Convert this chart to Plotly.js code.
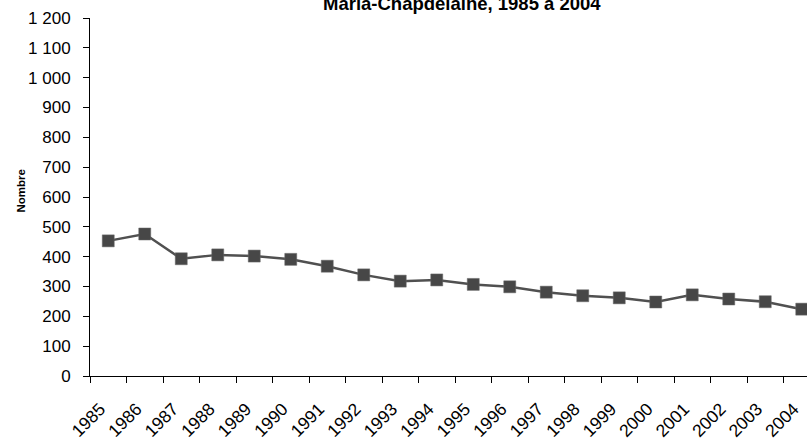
<!DOCTYPE html>
<html><head><meta charset="utf-8">
<script src="https://cdn.plot.ly/plotly-3.0.1.min.js"></script>
<style>html,body{margin:0;padding:0;overflow:hidden;background:#fff;width:807px;height:442px}</style>
</head><body><div id="chart"></div>
<script>
const years = ["1985","1986","1987","1988","1989","1990","1991","1992","1993","1994","1995","1996","1997","1998","1999","2000","2001","2002","2003","2004"];
const nombre = [453,476,393,406,402,391,368,339,318,322,307,299,281,269,262,248,272,258,249,224];
const chartTitle = "Maria-Chapdelaine, 1985 à 2004";
const yTitle = "Nombre";

const trace = {
  x: years, y: nombre, type: "scatter", mode: "lines+markers",
  line: {color: "#505050", width: 2.5},
  marker: {symbol: "square", size: 12, color: "#474747", line: {color: "#6a6a6a", width: 0.5}},
  cliponaxis: false
};
const layout = {
  width: 825, height: 442,
  margin: {l: 90, r: 5, t: 18, b: 66},
  paper_bgcolor: "#fff", plot_bgcolor: "#fff",
  separators: ", ",
  font: {family: "Liberation Sans, Arial, sans-serif", color: "#000"},
  showlegend: false,
  xaxis: {
    type: "category", range: [-0.5, 19.5], tickson: "boundaries",
    showgrid: false, zeroline: false, showline: true, linecolor: "#000", linewidth: 1,
    ticks: "outside", ticklen: 6, tickcolor: "#000", tickwidth: 1,
    tickangle: -45, tickfont: {size: 17.5, color: "#000"},
    ticklabelstandoff: 15, ticklabelshift: -8
  },
  yaxis: {
    range: [0, 1200], dtick: 100, tick0: 0, separatethousands: true,
    showgrid: false, zeroline: false, showline: true, linecolor: "#000", linewidth: 1,
    ticks: "outside", ticklen: 6, tickcolor: "#000", tickwidth: 1,
    tickfont: {size: 17, color: "#000"}, ticklabelstandoff: 9
  },
  annotations: [{
    text: "<b>" + yTitle + "</b>", textangle: -90, showarrow: false,
    xref: "paper", yref: "paper", x: (20 - 90) / 730, y: (376 - 191.5) / 358,
    xanchor: "center", yanchor: "middle", font: {size: 11.5, color: "#000"}
  }, {
    text: "<b>" + chartTitle + "</b>", showarrow: false,
    xref: "paper", yref: "paper", x: (462 - 90) / 730, y: (376 - 3) / 358,
    xanchor: "center", yanchor: "middle", font: {size: 18.5, color: "#000"}
  }]
};
Plotly.newPlot("chart", [trace], layout, {displayModeBar: false, staticPlot: true});
</script></body></html>
